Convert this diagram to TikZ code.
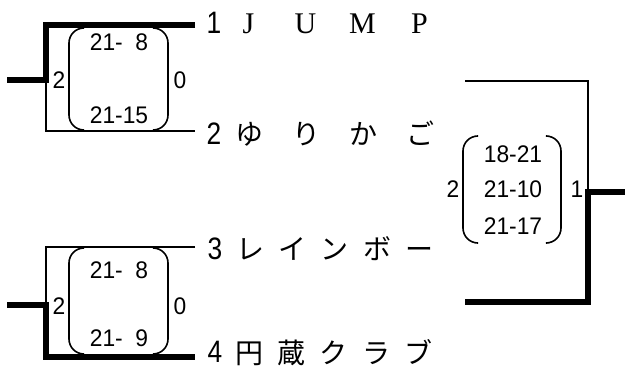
\documentclass[tikz,border=0pt]{standalone}
\usepackage{fontspec}
\newfontfamily\numfont[FakeStretch=0.95]{Liberation Sans}
\newfontfamily\seedfont[FakeStretch=0.85]{Liberation Sans}
\newfontfamily\cjk{Noto Sans CJK JP}
\newfontfamily\latserif{Liberation Serif}
\newcommand{\wbox}[2]{\makebox[#1]{#2}}
\tikzset{
  winline/.style={line width=6.5pt, line join=miter},
  loseline/.style={line width=2pt, line join=miter},
  parenline/.style={line width=1.6pt, rounded corners=15pt},
  score/.style={font=\numfont\fontsize{24}{24}\selectfont, inner sep=0pt},
  seed/.style={font=\seedfont\fontsize{31}{31}\selectfont, inner sep=0pt},
  tname/.style={inner sep=0pt},
}
\begin{document}
\begin{tikzpicture}[x=1pt,y=-1pt]
\useasboundingbox (0,0) rectangle (625,369);
% coordinates
\coordinate (a1) at (195,25);
\coordinate (a2) at (195,131);
\coordinate (a3) at (195,247);
\coordinate (a4) at (195,357);
\coordinate (m1) at (46,80);
\coordinate (s1) at (7,80);
\coordinate (m2) at (46,305);
\coordinate (s2) at (7,305);
\coordinate (f1) at (465,81);
\coordinate (f2) at (465,302);
\coordinate (fm) at (588,192);
\coordinate (fs) at (625,192);
% upper match
\draw[winline] (a1) -| (m1) -- (s1);
\draw[loseline] (m1) |- (a2);
% lower match
\draw[loseline] (a3) -| (m2);
\draw[winline] (s2) -- (m2) |- (a4);
% final
\draw[loseline] (f1) -| (fm);
\draw[winline] (fs) -- (fm) |- (f2);
% parentheses
\draw[parenline] (84,28) -- (69,28) -- (69,130) -- (84,130);
\draw[parenline] (153,28) -- (168,28) -- (168,130) -- (153,130);
\draw[parenline] (84,248) -- (69,248) -- (69,354) -- (84,354);
\draw[parenline] (153,248) -- (168,248) -- (168,354) -- (153,354);
\draw[parenline] (477,136) -- (463,136) -- (463,243) -- (477,243);
\draw[parenline] (547,136) -- (561,136) -- (561,243) -- (547,243);
% scores
\node[score] (sc1a) at (119,42) {21-\hphantom{0}8};
\node[score] (sc1b) at (119,115) {21-15};
\node[score] (w1l) at (59,80) {2};
\node[score] (w1r) at (180,80) {0};
\node[score] (sc2a) at (119,270) {21-\hphantom{0}8};
\node[score] (sc2b) at (119,338) {21-\hphantom{0}9};
\node[score] (w2l) at (59,306) {2};
\node[score] (w2r) at (180,306) {0};
\node[score] (sc3a) at (513,154) {18-21};
\node[score] (sc3b) at (513,189) {21-10};
\node[score] (sc3c) at (513,226) {21-17};
\node[score] (w3l) at (453,189) {2};
\node[score] (w3r) at (577,189) {1};
% seeds
\node[seed] (n1) at (214,23) {1};
\node[seed] (n2) at (214,134) {2};
\node[seed] (n3) at (215,249) {3};
\node[seed] (n4) at (215,352) {4};
% team names
\node[tname, font=\latserif\fontsize{30}{30}\selectfont] (t1) at (334,24)
  {\wbox{57pt}{J}\wbox{57pt}{U}\wbox{57pt}{M}\wbox{57pt}{P}};
\node[tname, font=\cjk\fontsize{28}{28}\selectfont] (t2) at (335,134)
  {\wbox{57pt}{ゆ}\wbox{57pt}{り}\wbox{57pt}{か}\wbox{57pt}{ご}};
\node[tname, font=\cjk\fontsize{28}{28}\selectfont] (t3) at (335,249)
  {\wbox{42.5pt}{レ}\wbox{42.5pt}{イ}\wbox{42.5pt}{ン}\wbox{42.5pt}{ボ}\wbox{42.5pt}{ー}};
\node[tname, font=\cjk\fontsize{28}{28}\selectfont] (t4) at (334,353)
  {\wbox{42.5pt}{円}\wbox{42.5pt}{蔵}\wbox{42.5pt}{ク}\wbox{42.5pt}{ラ}\wbox{42.5pt}{ブ}};
\end{tikzpicture}
\end{document}
